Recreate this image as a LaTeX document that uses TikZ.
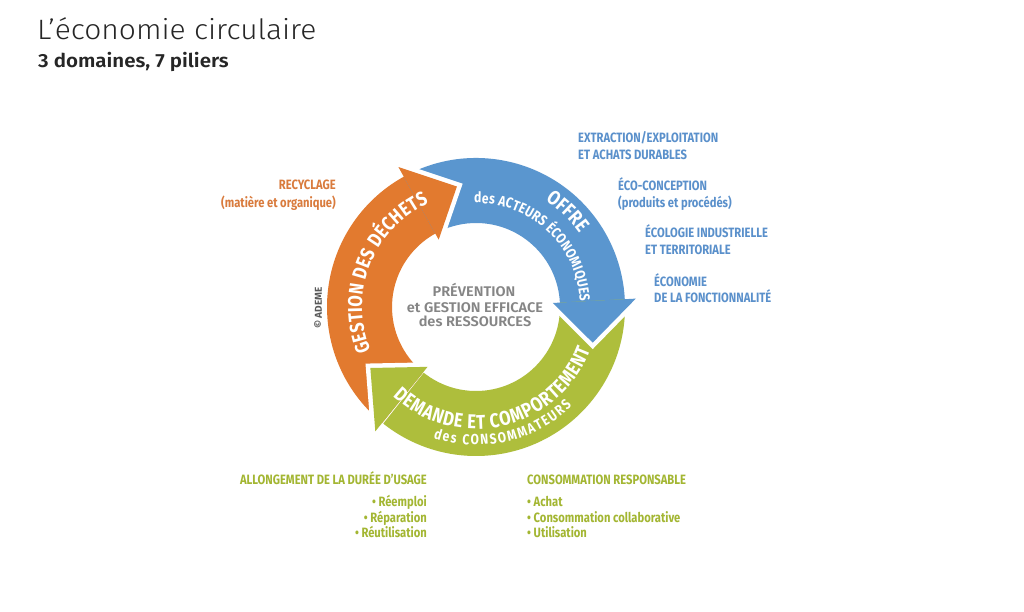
\documentclass[tikz,border=0pt]{standalone}
\usepackage{fontspec}
\setmainfont{Fira Sans}
\newfontfamily\titlefont[FakeStretch=1.07]{Fira Sans Light}
\newfontfamily\semifont[FakeStretch=1.08]{Fira Sans SemiBold}
\newfontfamily\ctrfont[FakeStretch=1.04]{Fira Sans SemiBold}
\newfontfamily\condfont[FakeStretch=0.83]{Fira Sans}
\usetikzlibrary{decorations.text}
\definecolor{ora}{HTML}{E27A2F}
\definecolor{blu}{HTML}{5A96CF}
\definecolor{gre}{HTML}{AEBE3C}
\definecolor{orat}{HTML}{D97B3D}
\definecolor{blut}{HTML}{5A90CB}
\definecolor{gret}{HTML}{A3B632}
\definecolor{grayt}{HTML}{858585}
\tikzset{
  lbl/.style={inner sep=0pt, font=\condfont\bfseries\fontsize{13.5}{13.5}\selectfont},
  ctr/.style={inner sep=0pt, anchor=base, text=grayt, font=\ctrfont\fontsize{14}{14}\selectfont},
  gap/.style={white, line width=9pt, line join=miter}
}
\begin{document}
\begin{tikzpicture}[x=1pt,y=1pt]
\useasboundingbox (0,0) rectangle (1024,611);
\fill[white] (0,0) rectangle (1024,611);

% titles
\node[inner sep=0pt, anchor=base west, font=\titlefont\fontsize{28}{28}\selectfont, text=black!85] (title) at (37,571.5) {L’économie circulaire};
\node[inner sep=0pt, anchor=base west, font=\semifont\fontsize{19}{19}\selectfont, text=black!85] (subtitle) at (38,543.7) {3 domaines, 7 piliers};

\begin{scope}[shift={(476,304)}]
\def\ri{84}\def\ro{149}\def\bi{77}\def\bo{160}\def\rm{122}
% bodies
\fill[ora] (231:\ro) arc[start angle=231,end angle=118.5,radius=\ro] -- (118.5:\ri) arc[start angle=118.5,end angle=231,radius=\ri] -- cycle;
\fill[blu] (119:\ro) arc[start angle=119,end angle=2.5,radius=\ro] -- (2.5:\ri) arc[start angle=2.5,end angle=119,radius=\ri] -- cycle;
\fill[gre] (3:\ro) arc[start angle=3,end angle=-128.5,radius=\ro] -- (-128.5:\ri) arc[start angle=-128.5,end angle=3,radius=\ri] -- cycle;
% heads
\draw[gap] (119:\bo) -- (99:\rm) -- (119:\bi);
\fill[ora] (119:\bo) -- (99:\rm) -- (119:\bi) -- cycle;
\draw[gap] (3:\bo) -- (-17:\rm) -- (3:\bi);
\fill[blu] (3:\bo) -- (-17:\rm) -- (3:\bi) -- cycle;
\draw[gap] (-129:\bo) -- (-150:\rm) -- (-129:\bi);
\fill[gre] (-129:\bo) -- (-150:\rm) -- (-129:\bi) -- cycle;

% curved texts
\path[decorate, decoration={text along path, text align={fit to path},
  text={|\color{white}\condfont\bfseries\fontsize{20}{20}\selectfont|GESTION DES DÉCHETS}}]
  (202.5:114) arc[start angle=202.5,end angle=114.5,radius=114];
\path[decorate, decoration={text along path, text align={fit to path},
  text={|\color{white}\condfont\bfseries\fontsize{20}{20}\selectfont|OFFRE}}]
  (57:127) arc[start angle=57,end angle=35.5,radius=127];
\path[decorate, decoration={text along path, text align={fit to path},
  text={|\color{white}\condfont\bfseries\fontsize{14.5}{14.5}\selectfont|des ACTEURS ÉCONOMIQUES}}]
  (91:104) arc[start angle=91,end angle=3,radius=104];
\path[decorate, decoration={text along path, text align={fit to path},
  text={|\color{white}\condfont\bfseries\fontsize{20}{20}\selectfont|DEMANDE ET COMPORTEMENT}}]
  (227:122) arc[start angle=227,end angle=339.5,radius=122];
\path[decorate, decoration={text along path, text align={fit to path},
  text={|\color{white}\condfont\bfseries\fontsize{14.5}{14.5}\selectfont|des CONSOMMATEURS}}]
  (252:138) arc[start angle=252,end angle=314,radius=138];
\end{scope}

% centre text
\node[ctr] (c1) at (474,314.5) {PRÉVENTION};
\node[ctr] (c2) at (475,298.5) {et GESTION EFFICACE};
\node[ctr] (c3) at (475,284.5) {des RESSOURCES};

% copyright
\node[inner sep=0pt, rotate=90, text=black!65, font=\bfseries\fontsize{10}{10}\selectfont] (cop) at (318,303) {© ADEME};

% orange labels
\node[lbl, text=orat, anchor=base east] (o1) at (336,421.5) {RECYCLAGE};
\node[lbl, text=orat, anchor=base east] (o2) at (336,403.5) {(matière et organique)};

% blue labels
\node[lbl, text=blut, anchor=base west] (b1) at (578,468.5) {EXTRACTION/EXPLOITATION};
\node[lbl, text=blut, anchor=base west] (b2) at (578,451.5) {ET ACHATS DURABLES};
\node[lbl, text=blut, anchor=base west] (b3) at (618,420.5) {ÉCO-CONCEPTION};
\node[lbl, text=blut, anchor=base west] (b4) at (618,403.5) {(produits et procédés)};
\node[lbl, text=blut, anchor=base west] (b5) at (645,373.5) {ÉCOLOGIE INDUSTRIELLE};
\node[lbl, text=blut, anchor=base west] (b6) at (645,356.5) {ET TERRITORIALE};
\node[lbl, text=blut, anchor=base west] (b7) at (654,324.5) {ÉCONOMIE};
\node[lbl, text=blut, anchor=base west] (b8) at (654,308.5) {DE LA FONCTIONNALITÉ};

% green labels
\node[lbl, text=gret, anchor=base east] (g1) at (427,126.5) {ALLONGEMENT DE LA DURÉE D’USAGE};
\node[lbl, text=gret, anchor=base east] (g2) at (427,104.5) {• Réemploi};
\node[lbl, text=gret, anchor=base east] (g3) at (427,88.5) {• Réparation};
\node[lbl, text=gret, anchor=base east] (g4) at (427,73.5) {• Réutilisation};
\node[lbl, text=gret, anchor=base west] (h1) at (527,126.5) {CONSOMMATION RESPONSABLE};
\node[lbl, text=gret, anchor=base west] (h2) at (527,104.5) {• Achat};
\node[lbl, text=gret, anchor=base west] (h3) at (527,88.5) {• Consommation collaborative};
\node[lbl, text=gret, anchor=base west] (h4) at (527,73.5) {• Utilisation};
\end{tikzpicture}
\end{document}
